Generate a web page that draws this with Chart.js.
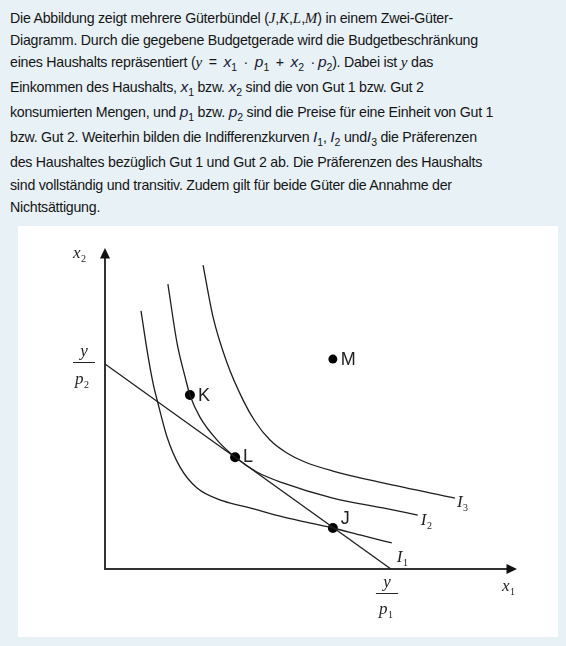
<!DOCTYPE html>
<html><head><meta charset="utf-8">
<script src="https://cdn.jsdelivr.net/npm/chart.js@4.4.0/dist/chart.umd.min.js"></script>
<style>
html,body{margin:0;padding:0;}
body{width:566px;height:646px;background:#e8f1f5;position:relative;overflow:hidden;font-family:Arial,"Liberation Sans",sans-serif;color:#151515;}
.ln{position:absolute;left:10px;font-size:14.2px;letter-spacing:-0.25px;line-height:22px;white-space:nowrap;}
.m{font-family:"Liberation Serif","Times New Roman",serif;font-style:italic;font-size:15px;letter-spacing:0;}
.v{font-style:italic;font-size:15.5px;color:#1a1a3a;letter-spacing:0;}
.s{font-size:10.5px;position:relative;top:4px;font-style:normal;}
.op{margin:0 3px;}
#panel{position:absolute;left:18px;top:226px;width:540px;height:411px;background:#fff;}
canvas{display:block;}
</style></head>
<body>
<div class="ln" style="top:7px">Die Abbildung zeigt mehrere Güterbündel (<span class="m">J</span>,<span class="m">K</span>,<span class="m">L</span>,<span class="m">M</span>) in einem Zwei-Güter-</div>
<div class="ln" style="top:29px">Diagramm. Durch die gegebene Budgetgerade wird die Budgetbeschränkung</div>
<div class="ln" style="top:51px">eines Haushalts repräsentiert (<span class="m">y</span><span class="op"> = </span><span class="v">x</span><span class="s">1</span><span class="op"> · </span><span class="v">p</span><span class="s">1</span><span class="op"> + </span><span class="v">x</span><span class="s">2</span><span class="op"> ·</span><span class="v">p</span><span class="s">2</span>). Dabei ist <span class="m">y</span> das</div>
<div class="ln" style="top:76px">Einkommen des Haushalts, <span class="v">x</span><span class="s">1</span> bzw. <span class="v">x</span><span class="s">2</span> sind die von Gut 1 bzw. Gut 2</div>
<div class="ln" style="top:101px">konsumierten Mengen, und <span class="v">p</span><span class="s">1</span> bzw. <span class="v">p</span><span class="s">2</span> sind die Preise für eine Einheit von Gut 1</div>
<div class="ln" style="top:126px">bzw. Gut 2. Weiterhin bilden die Indifferenzkurven <span class="v">I</span><span class="s">1</span>, <span class="v">I</span><span class="s">2</span> und<span class="v">I</span><span class="s">3</span> die Präferenzen</div>
<div class="ln" style="top:151px">des Haushaltes bezüglich Gut 1 und Gut 2 ab. Die Präferenzen des Haushalts</div>
<div class="ln" style="top:174px">sind vollständig und transitiv. Zudem gilt für beide Güter die Annahme der</div>
<div class="ln" style="top:196px">Nichtsättigung.</div>
<div id="panel"><canvas id="c" width="540" height="411"></canvas></div>
<script>
// axis ranges (data units)
const xMax = 144.1;
const yMax = 156.6;
// budget line intercepts: y/p1 on x-axis, y/p2 on y-axis
const budgetX = [0, 100];
const budgetY = [100, 0];
// indifference curves
const i1X = [12.6, 14.7, 16.8, 18.5, 21.7, 26.2, 32.2, 41.3, 50.7, 62.2, 79.7, 89.2, 100.3];
const i1Y = [125.9, 106.8, 90.7, 81.0, 64.4, 49.8, 39.5, 33.2, 29.8, 25.4, 20.0, 16.6, 12.7];
const i2X = [22.0, 25.2, 28.0, 29.7, 33.2, 39.2, 45.5, 53.1, 62.2, 79.7, 97.2, 109.4];
const i2Y = [139.0, 110.2, 93.7, 84.9, 74.1, 62.9, 54.6, 47.3, 42.0, 34.6, 29.8, 26.3];
const i3X = [34.3, 37.8, 42.7, 48.3, 52.4, 57.7, 63.6, 69.9, 79.7, 97.2, 122.4];
const i3Y = [148.3, 122.9, 100.5, 82.4, 72.2, 62.9, 56.6, 52.2, 47.8, 42.0, 34.6];
// bundles
const bundleNames = ['K', 'L', 'M', 'J'];
const bundleX = [29.7, 45.5, 79.7, 79.7];
const bundleY = [84.9, 54.5, 102.4, 20.0];
const curveNames = ['I', 'I', 'I'];
const curveSubs = ['1', '2', '3'];

const pts = (xs, ys) => xs.map((x, i) => ({x: x, y: ys[i]}));
const INK = '#1e1e1e';
const curveDs = (xs, ys) => ({data: pts(xs, ys), borderColor: INK, borderWidth: 1.3, pointRadius: 0, fill: false, cubicInterpolationMode: 'monotone', showLine: true});

function sub(ctx, main, s, x, y, size, font) {
  ctx.textAlign = 'left';
  ctx.textBaseline = 'alphabetic';
  ctx.font = 'italic ' + size + 'px ' + font;
  ctx.fillText(main, x, y);
  const w = ctx.measureText(main).width;
  ctx.font = Math.round(size * 0.6) + 'px ' + font;
  ctx.fillText(s, x + w + 0.5, y + 4);
}

const SERIF = '"Liberation Serif","Times New Roman",serif';
const SANS = 'Arial,"Liberation Sans",sans-serif';

const deco = {
  id: 'deco',
  beforeDatasetsDraw(chart) {
    const ctx = chart.ctx, xs = chart.scales.x, ys = chart.scales.y;
    const x0 = xs.getPixelForValue(0), y0 = ys.getPixelForValue(0);
    const xt = xs.getPixelForValue(xMax), yt = ys.getPixelForValue(yMax);
    ctx.save();
    ctx.strokeStyle = '#333';
    ctx.fillStyle = '#111';
    ctx.lineWidth = 2;
    ctx.beginPath();
    ctx.moveTo(x0, yt + 9); ctx.lineTo(x0, y0); ctx.lineTo(xt - 8, y0);
    ctx.stroke();
    ctx.beginPath();
    ctx.moveTo(x0, yt); ctx.lineTo(x0 - 5, yt + 10.5); ctx.lineTo(x0 + 5, yt + 10.5); ctx.closePath(); ctx.fill();
    ctx.beginPath();
    ctx.moveTo(xt, y0); ctx.lineTo(xt - 10.5, y0 - 5); ctx.lineTo(xt - 10.5, y0 + 5); ctx.closePath(); ctx.fill();
    ctx.restore();
  },
  afterDatasetsDraw(chart) {
    const ctx = chart.ctx, xs = chart.scales.x, ys = chart.scales.y;
    const x0 = xs.getPixelForValue(0), y0 = ys.getPixelForValue(0);
    const yt = ys.getPixelForValue(yMax), xt = xs.getPixelForValue(xMax);
    ctx.save();
    ctx.fillStyle = '#222';
    ctx.strokeStyle = '#222';
    // axis labels
    sub(ctx, 'x', '2', x0 - 32, yt + 10, 17, SERIF);
    sub(ctx, 'x', '1', xt - 15, y0 + 22, 17, SERIF);
    // y/p2
    const yb = ys.getPixelForValue(budgetY[0]);
    const cx2 = x0 - 21;
    ctx.textAlign = 'center';
    ctx.font = 'italic 17px ' + SERIF;
    ctx.fillText('y', cx2, yb - 8);
    ctx.lineWidth = 1;
    ctx.beginPath(); ctx.moveTo(cx2 - 11, yb - 1.5); ctx.lineTo(cx2 + 11, yb - 1.5); ctx.stroke();
    sub(ctx, 'p', '2', cx2 - 9, yb + 20, 17, SERIF);
    // y/p1
    const xb = xs.getPixelForValue(budgetX[1]);
    const cx1 = xb - 4;
    ctx.textAlign = 'center';
    ctx.font = 'italic 17px ' + SERIF;
    ctx.fillText('y', cx1, y0 + 18);
    ctx.beginPath(); ctx.moveTo(cx1 - 11, y0 + 24.5); ctx.lineTo(cx1 + 11, y0 + 24.5); ctx.stroke();
    sub(ctx, 'p', '1', cx1 - 8, y0 + 45, 17, SERIF);
    // curve labels
    const ends = [[i1X, i1Y, 5, 19], [i2X, i2Y, 3, 10], [i3X, i3Y, 2, 9]];
    ends.forEach((e, i) => {
      const px = xs.getPixelForValue(e[0][e[0].length - 1]);
      const py = ys.getPixelForValue(e[1][e[1].length - 1]);
      sub(ctx, curveNames[i], curveSubs[i], px + e[2], py + e[3], 17, SERIF);
    });
    // bundle labels
    const offs = [[8, 6], [8, 5], [8, 6], [8, -4]];
    ctx.font = '18px ' + SANS;
    ctx.textAlign = 'left';
    bundleNames.forEach((n, i) => {
      const px = xs.getPixelForValue(bundleX[i]);
      const py = ys.getPixelForValue(bundleY[i]);
      ctx.fillText(n, px + offs[i][0], py + offs[i][1]);
    });
    ctx.restore();
  }
};

new Chart(document.getElementById('c'), {
  type: 'scatter',
  data: {
    datasets: [
      {data: pts(budgetX, budgetY), borderColor: INK, borderWidth: 1.3, pointRadius: 0, showLine: true, tension: 0},
      curveDs(i1X, i1Y),
      curveDs(i2X, i2Y),
      curveDs(i3X, i3Y),
      {data: pts(bundleX, bundleY), pointRadius: [5, 5, 4.5, 5], pointBackgroundColor: '#000', pointBorderWidth: 0, showLine: false}
    ]
  },
  options: {
    responsive: false,
    animation: false,
    devicePixelRatio: 1,
    layout: {padding: {left: 87, right: 41, top: 22, bottom: 68}},
    scales: {
      x: {type: 'linear', min: 0, max: xMax, display: false},
      y: {type: 'linear', min: 0, max: yMax, display: false}
    },
    plugins: {legend: {display: false}, tooltip: {enabled: false}},
    events: []
  },
  plugins: [deco]
});
</script>
</body></html>
